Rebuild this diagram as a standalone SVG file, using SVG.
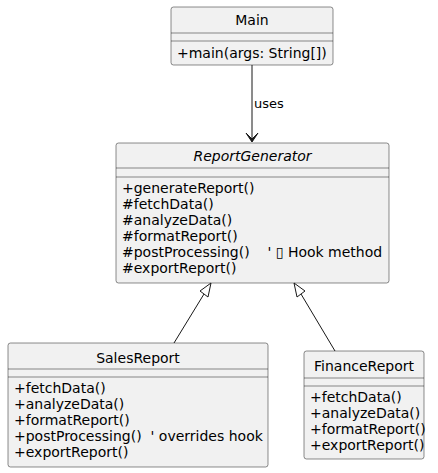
<svg xmlns="http://www.w3.org/2000/svg" width="438" height="473" viewBox="0 0 438 473">
<style>
.box{fill:#F1F1F1;stroke:#181818;stroke-width:0.5}
.sep{stroke:#181818;stroke-width:0.5}
.t{font-family:"DejaVu Sans",sans-serif;font-size:14px;fill:#000}
.c{text-anchor:middle}
.lbl{font-family:"DejaVu Sans",sans-serif;font-size:13px;fill:#000}
.ln{stroke:#181818;stroke-width:1;fill:none}
</style>
<rect width="438" height="473" fill="#FFFFFF"/>
<g id="Main">
<rect class="box" x="171" y="7" width="162" height="58" rx="2.5"/>
<text class="t c" x="252" y="25">Main</text>
<line class="sep" x1="171" y1="33" x2="333" y2="33"/>
<line class="sep" x1="171" y1="41" x2="333" y2="41"/>
<text class="t" x="177" y="58">+main(args: String[])</text>
</g>
<g id="ReportGenerator">
<rect class="box" x="116" y="143" width="273" height="140" rx="2.5"/>
<text class="t c" x="252.5" y="161" font-style="italic">ReportGenerator</text>
<line class="sep" x1="116" y1="168" x2="389" y2="168"/>
<line class="sep" x1="116" y1="177" x2="389" y2="177"/>
<text class="t" x="122" y="193">+generateReport()</text>
<text class="t" x="122" y="209">#fetchData()</text>
<text class="t" x="122" y="225">#analyzeData()</text>
<text class="t" x="122" y="241">#formatReport()</text>
<text class="t" x="122" y="257" xml:space="preserve">#postProcessing()    ' ▯ Hook method</text>
<text class="t" x="122" y="273">#exportReport()</text>
</g>
<g id="SalesReport">
<rect class="box" x="8" y="343" width="260" height="124" rx="2.5"/>
<text class="t c" x="138" y="363">SalesReport</text>
<line class="sep" x1="8" y1="369" x2="268" y2="369"/>
<line class="sep" x1="8" y1="377" x2="268" y2="377"/>
<text class="t" x="14" y="393">+fetchData()</text>
<text class="t" x="14" y="409">+analyzeData()</text>
<text class="t" x="14" y="425">+formatReport()</text>
<text class="t" x="14" y="441" xml:space="preserve">+postProcessing()  ' overrides hook</text>
<text class="t" x="14" y="457">+exportReport()</text>
</g>
<g id="FinanceReport">
<rect class="box" x="304" y="351" width="120" height="108" rx="2.5"/>
<text class="t c" x="364" y="371">FinanceReport</text>
<line class="sep" x1="304" y1="378" x2="424" y2="378"/>
<line class="sep" x1="304" y1="386" x2="424" y2="386"/>
<text class="t" x="310" y="402">+fetchData()</text>
<text class="t" x="310" y="418">+analyzeData()</text>
<text class="t" x="310" y="434">+formatReport()</text>
<text class="t" x="310" y="450">+exportReport()</text>
</g>
<g id="connectors">
<line class="ln" x1="252" y1="65" x2="252" y2="141"/>
<path d="M246,133 L252,142 L258,133 L252,139 Z" fill="#181818" stroke="#181818" stroke-width="1"/>
<text class="lbl" x="254" y="108">uses</text>
<line class="ln" x1="174" y1="343" x2="204" y2="294"/>
<path d="M211,283 L200,291 L208,297 Z" fill="#FFFFFF" stroke="#181818" stroke-width="1"/>
<line class="ln" x1="335" y1="351" x2="301" y2="294"/>
<path d="M294,283 L297,297 L305,291 Z" fill="#FFFFFF" stroke="#181818" stroke-width="1"/>
</g>
</svg>
